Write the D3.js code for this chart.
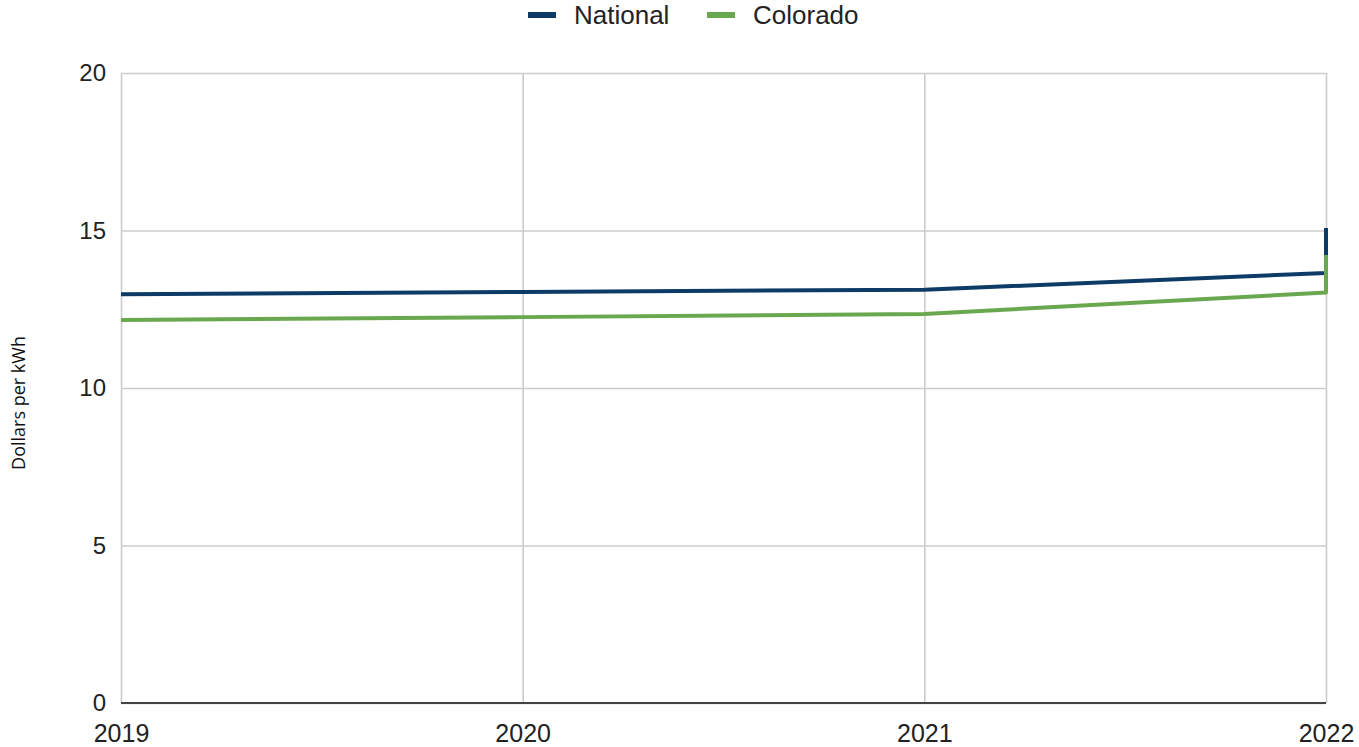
<!DOCTYPE html>
<html>
<head>
<meta charset="utf-8">
<script src="https://cdn.jsdelivr.net/npm/d3@7"></script>
<style>
  html, body { margin: 0; padding: 0; background: #fff; }
  svg { display: block; }
</style>
</head>
<body>
<svg id="chart" width="1359" height="747"></svg>
<script>
// Electricity price series; the last reading of each series sits on the 2022 gridline
const years = [2019, 2020, 2021, 2022, 2022];
const national = [12.98, 13.05, 13.12, 13.65, 15.08];
const colorado = [12.16, 12.25, 12.35, 13.03, 14.22];
const seriesNames = ["National", "Colorado"];
const seriesColors = ["#0d3b66", "#6aa84f"];
const xTicks = [2019, 2020, 2021, 2022];
const yTicks = [0, 5, 10, 15, 20];

const svg = d3.select("#chart");
const margin = { left: 121, right: 33, top: 73, bottom: 44 };
const W = 1359, H = 747;

const x = d3.scaleLinear().domain([2019, 2022]).range([margin.left, W - margin.right]);
const y = d3.scaleLinear().domain([0, 20]).range([H - margin.bottom, margin.top]);

// Horizontal gridlines and y tick labels
const yAxis = d3.axisLeft(y).tickValues(yTicks).tickSize(-(x.range()[1] - x.range()[0])).tickPadding(15);
const gy = svg.append("g").attr("transform", `translate(${margin.left},0)`).call(yAxis);
gy.select(".domain").remove();
gy.selectAll(".tick line").attr("stroke", "#cccccc").attr("stroke-width", 1.6);
gy.selectAll(".tick text")
  .attr("fill", "#222")
  .style("font-family", "'Liberation Sans', Arial, sans-serif")
  .style("font-size", "24px");

// Vertical gridlines and x tick labels
const xAxis = d3.axisBottom(x).tickValues(xTicks).tickFormat(d3.format("d"))
  .tickSize(-(y.range()[0] - y.range()[1])).tickPadding(21);
const gx = svg.append("g").attr("transform", `translate(0,${y(0)})`).call(xAxis);
gx.select(".domain").remove();
gx.selectAll(".tick line").attr("stroke", "#cccccc").attr("stroke-width", 1.6);
gx.selectAll(".tick text")
  .attr("fill", "#222")
  .style("font-family", "'Liberation Sans', Arial, sans-serif")
  .style("font-size", "25px");

// Baseline at zero
svg.append("line")
  .attr("x1", x(2019)).attr("x2", x(2022))
  .attr("y1", y(0)).attr("y2", y(0))
  .attr("stroke", "#444").attr("stroke-width", 2);

// Series lines
const line = d3.line().x((d, i) => x(years[i])).y(d => y(d));
[national, colorado].forEach((vals, k) => {
  svg.append("path")
    .datum(vals)
    .attr("d", line)
    .attr("fill", "none")
    .attr("stroke", seriesColors[k])
    .attr("stroke-width", 4)
    .attr("stroke-linejoin", "round");
});

// Y axis title
svg.append("text")
  .attr("transform", `translate(25,403) rotate(-90)`)
  .attr("text-anchor", "middle")
  .attr("fill", "#111")
  .style("font-family", "'Open Sans', sans-serif")
  .style("font-size", "18px")
  .text("Dollars per kWh");

// Legend
const legendX = [528, 707];
const lg = svg.append("g");
seriesNames.forEach((name, k) => {
  lg.append("rect")
    .attr("x", legendX[k]).attr("y", 12)
    .attr("width", 28).attr("height", 6)
    .attr("fill", seriesColors[k]);
  lg.append("text")
    .attr("x", legendX[k] + 46).attr("y", 24)
    .attr("fill", "#222")
    .style("font-family", "'Liberation Sans', Arial, sans-serif")
    .style("font-size", "26px")
    .text(name);
});
</script>
</body>
</html>
